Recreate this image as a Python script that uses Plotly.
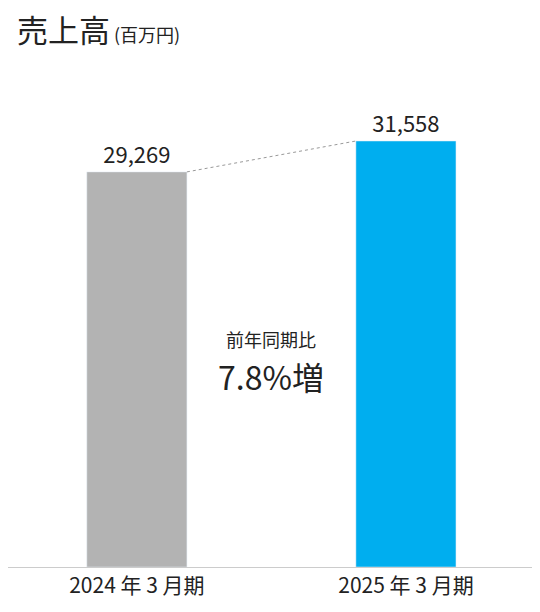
import plotly.graph_objects as go

categories = ["2024 年 3 月期", "2025 年 3 月期"]
values = [29269, 31558]
colors = ["#b3b3b3", "#00aeef"]
growth_label = "7.8%増"

font = "Noto Sans CJK JP"
bar_w = 0.372

fig = go.Figure(go.Bar(
    x=[0, 1], y=values, width=bar_w, marker_color=colors,
    text=[f"{v:,}" for v in values], textposition="outside",
    textfont=dict(size=22, color="#222222", family=font),
    cliponaxis=False,
))

# dashed connector between bar tops
fig.add_shape(type="line", xref="x", yref="y",
              x0=0 + bar_w / 2, y0=values[0], x1=1 - bar_w / 2, y1=values[1],
              line=dict(color="#999999", width=1, dash="dot"))

fig.add_annotation(x=0.5, y=0.49, xref="x", yref="paper", text="前年同期比",
                   showarrow=False, font=dict(size=18, color="#222222", family=font))
fig.add_annotation(x=0.5, y=0.41, xref="x", yref="paper", text=growth_label,
                   showarrow=False, font=dict(size=32, color="#222222", family=font))

fig.add_annotation(x=0, y=1, xref="paper", yref="paper", yshift=48, xshift=7,
                   xanchor="left", yanchor="bottom", showarrow=False,
                   text="売上高<span style='font-size:18px'> (百万円)</span>",
                   font=dict(size=31, color="#222222", family=font))

fig.update_layout(
    width=540, height=612, margin=dict(l=0, r=0, t=93, b=53),
    plot_bgcolor="white", paper_bgcolor="white", showlegend=False,
    xaxis=dict(range=[-0.479, 1.528], tickvals=[0, 1], ticktext=categories,
               tickfont=dict(size=21, color="#222222", family=font),
               showline=True, linecolor="#cccccc", showgrid=False, ticks=""),
    yaxis=dict(range=[0, 34521], visible=False, showgrid=False),
)

fig.write_html("out.html")
